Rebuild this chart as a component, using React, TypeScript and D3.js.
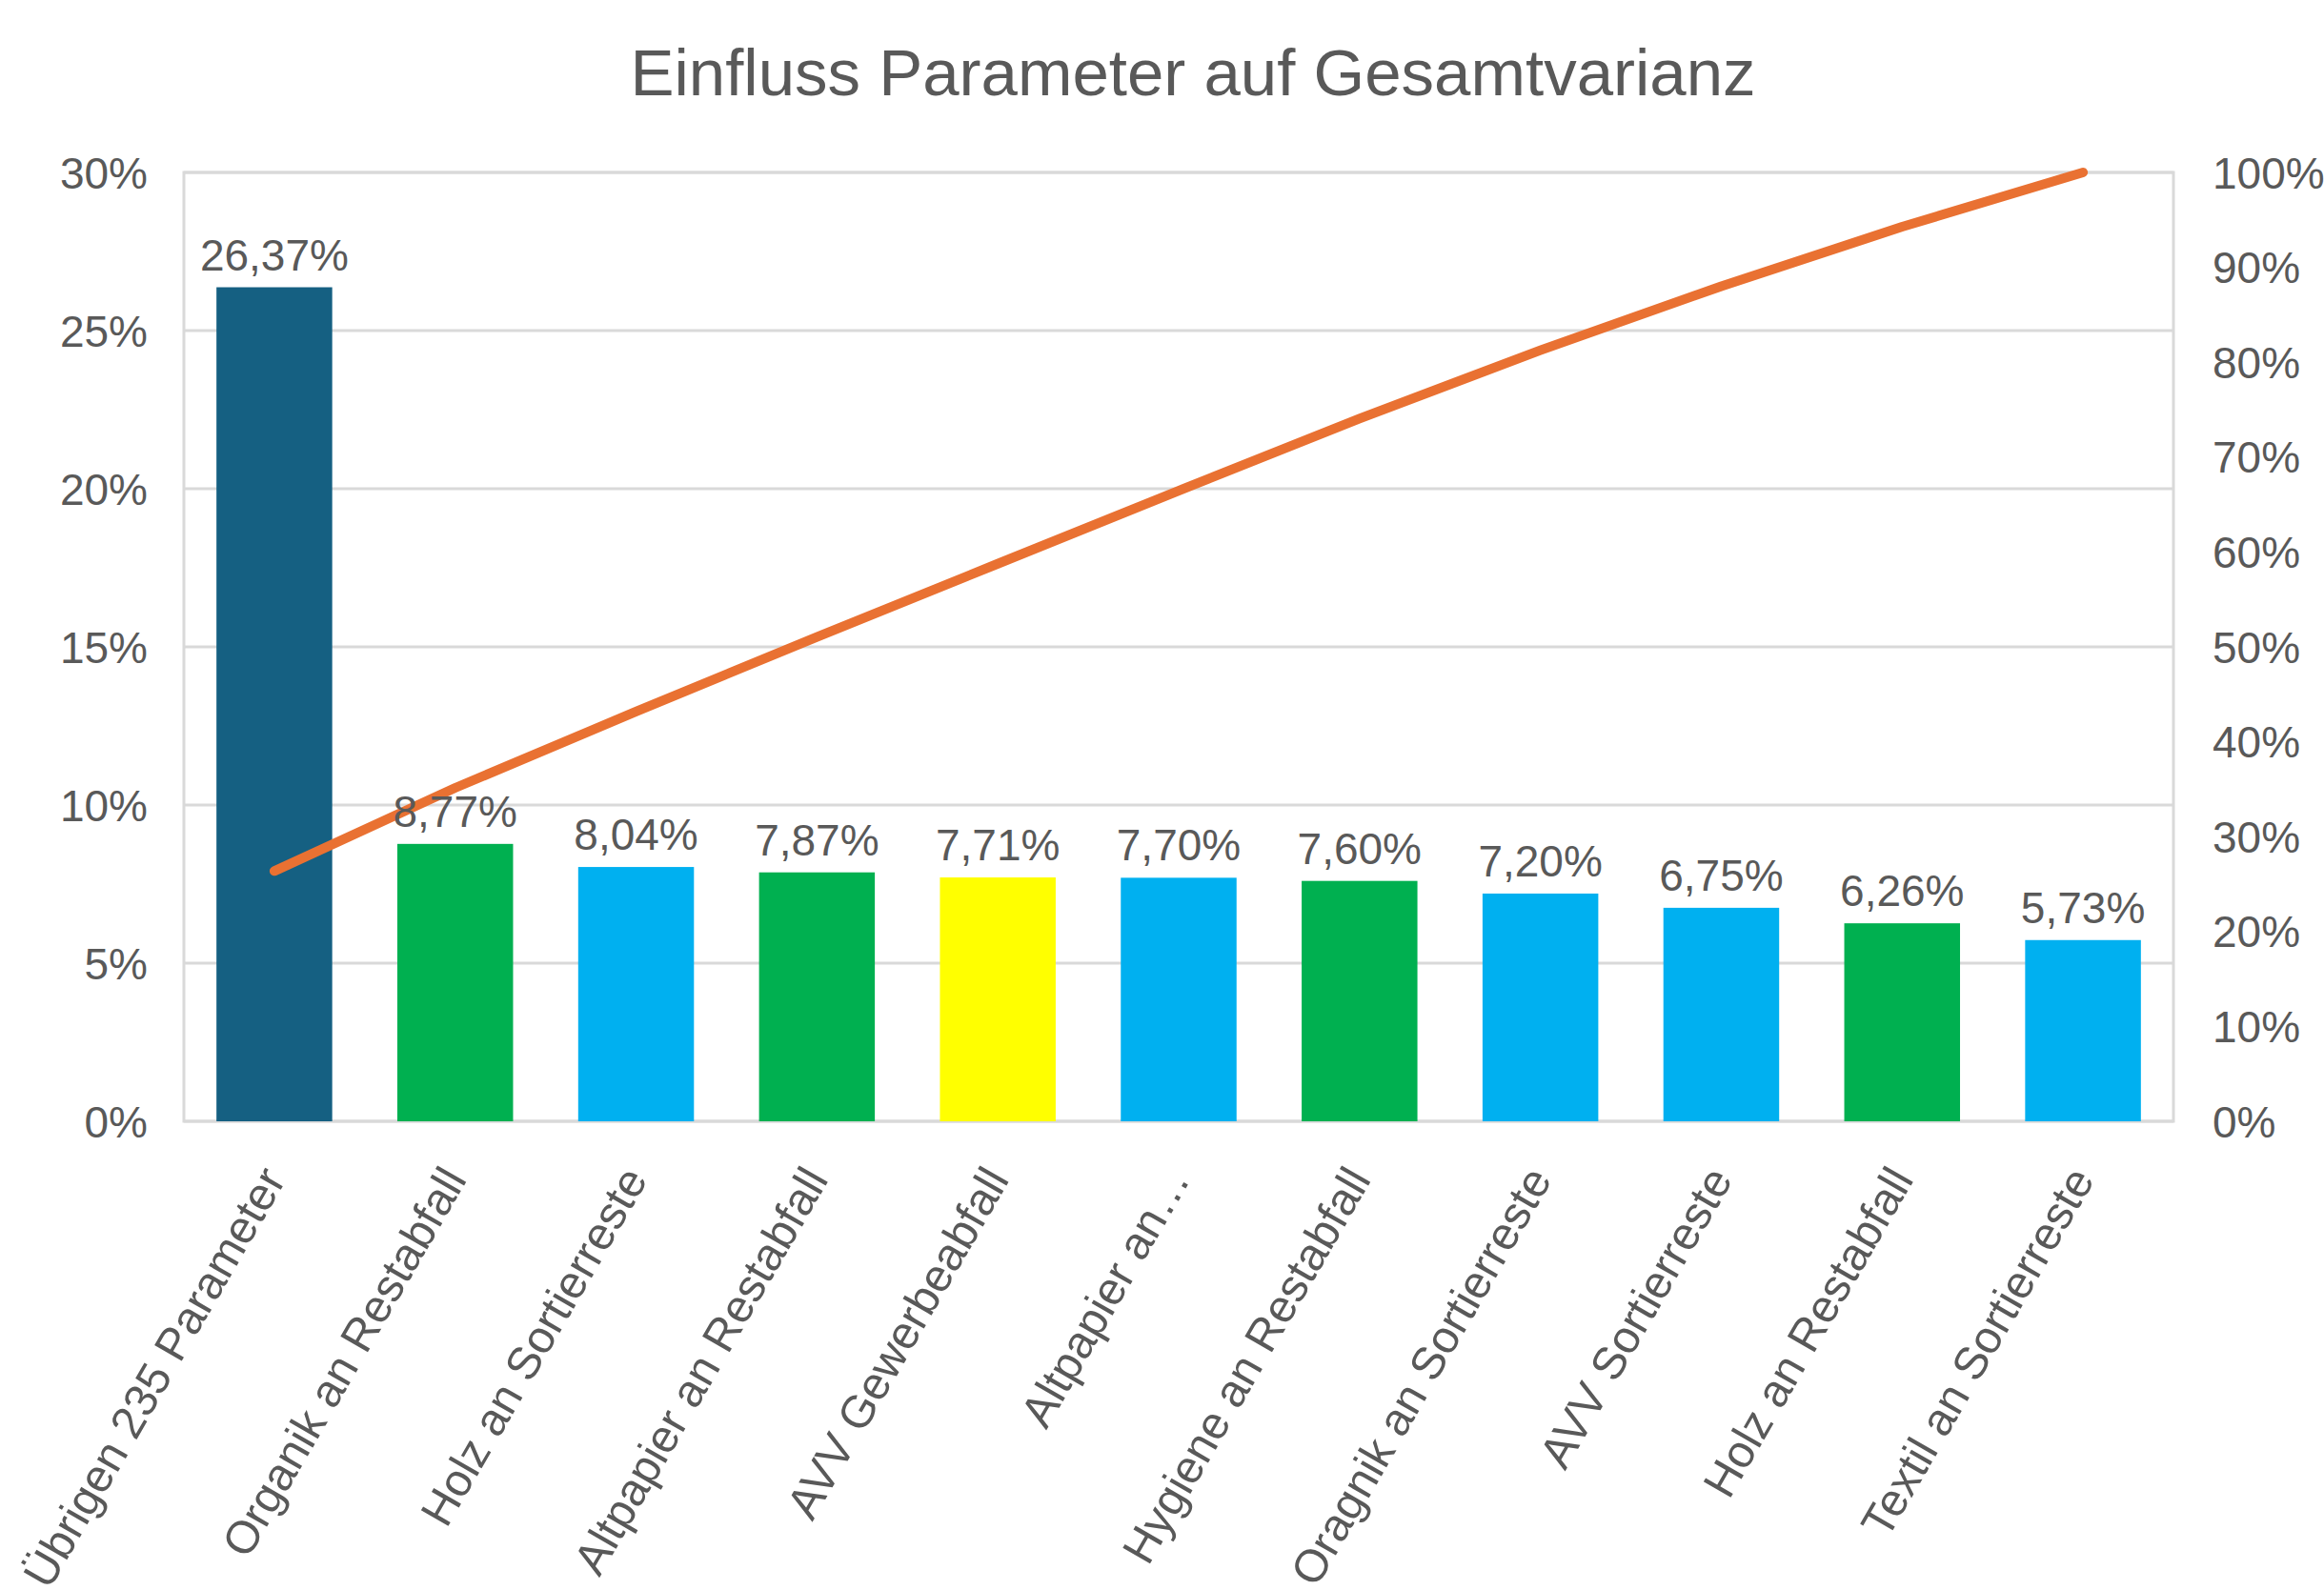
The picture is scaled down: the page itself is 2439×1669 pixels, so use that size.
import React from "react";
import * as d3 from "d3";

const categories = [
  "Übrigen 235 Parameter",
  "Organik an Restabfall",
  "Holz an Sortierreste",
  "Altpapier an Restabfall",
  "AVV Gewerbeabfall",
  "Altpapier an…",
  "Hygiene an Restabfall",
  "Oragnik an Sortierreste",
  "AVV Sortierreste",
  "Holz an Restabfall",
  "Textil an Sortierreste",
];
const shares = [26.37, 8.77, 8.04, 7.87, 7.71, 7.7, 7.6, 7.2, 6.75, 6.26, 5.73];
const cumulative = [26.37, 35.14, 43.18, 51.05, 58.76, 66.46, 74.06, 81.26, 88.01, 94.27, 100.0];
const barColors = [
  "#156082", "#00B050", "#00B0F0", "#00B050", "#FFFF00", "#00B0F0",
  "#00B050", "#00B0F0", "#00B0F0", "#00B050", "#00B0F0",
];
const leftTicks = [0, 5, 10, 15, 20, 25, 30];
const rightTicks = [0, 10, 20, 30, 40, 50, 60, 70, 80, 90, 100];
const title = "Einfluss Parameter auf Gesamtvarianz";

const W = 2439;
const H = 1669;
const plot = { left: 193, right: 2281, top: 181, bottom: 1177 };
const FONT = "'Liberation Sans', Arial, sans-serif";
const TEXT = "#595959";
const GRID = "#D9D9D9";

export default function App() {
  const x = d3
    .scaleBand<number>()
    .domain(d3.range(categories.length))
    .range([plot.left, plot.right])
    .paddingInner(0.36)
    .paddingOuter(0.18);
  const yL = d3.scaleLinear().domain([0, 30]).range([plot.bottom, plot.top]);
  const yR = d3.scaleLinear().domain([0, 100]).range([plot.bottom, plot.top]);
  const cx = (i: number) => (x(i) as number) + x.bandwidth() / 2;

  const line = d3
    .line<number>()
    .x((_, i) => cx(i))
    .y((d) => yR(d));

  const fmt = (v: number) => v.toFixed(2).replace(".", ",") + "%";

  return (
    <svg
      width={W}
      height={H}
      style={{ position: "absolute", left: 0, top: 0, background: "#fff" }}
      fontFamily={FONT}
    >
      <rect x={0} y={0} width={W} height={H} fill="#fff" />
      <text x={1252} y={100} textAnchor="middle" fontSize={69} fill={TEXT}>
        {title}
      </text>

      {leftTicks.map((t) => (
        <line
          key={"g" + t}
          x1={plot.left}
          x2={plot.right}
          y1={yL(t)}
          y2={yL(t)}
          stroke={GRID}
          strokeWidth={3}
        />
      ))}
      <rect
        x={plot.left}
        y={plot.top}
        width={plot.right - plot.left}
        height={plot.bottom - plot.top}
        fill="none"
        stroke={GRID}
        strokeWidth={3}
      />

      {leftTicks.map((t) => (
        <text
          key={"l" + t}
          x={155}
          y={yL(t)}
          dy="0.36em"
          textAnchor="end"
          fontSize={46}
          fill={TEXT}
        >
          {t + "%"}
        </text>
      ))}
      {rightTicks.map((t) => (
        <text
          key={"r" + t}
          x={2322}
          y={yR(t)}
          dy="0.36em"
          textAnchor="start"
          fontSize={46}
          fill={TEXT}
        >
          {t + "%"}
        </text>
      ))}

      {shares.map((v, i) => (
        <rect
          key={"b" + i}
          x={x(i)}
          y={yL(v)}
          width={x.bandwidth()}
          height={plot.bottom - yL(v)}
          fill={barColors[i]}
        />
      ))}

      <path
        d={line(cumulative) || ""}
        fill="none"
        stroke="#E97132"
        strokeWidth={10}
        strokeLinecap="round"
        strokeLinejoin="round"
      />

      {shares.map((v, i) => (
        <text
          key={"d" + i}
          x={cx(i)}
          y={yL(v) - 18}
          textAnchor="middle"
          fontSize={46}
          fill={TEXT}
        >
          {fmt(v)}
        </text>
      ))}

      {categories.map((c, i) => (
        <text
          key={"x" + i}
          transform={`translate(${cx(i) + 13},${1238}) rotate(-60)`}
          textAnchor="end"
          fontSize={48}
          fill={TEXT}
        >
          {c}
        </text>
      ))}
    </svg>
  );
}
